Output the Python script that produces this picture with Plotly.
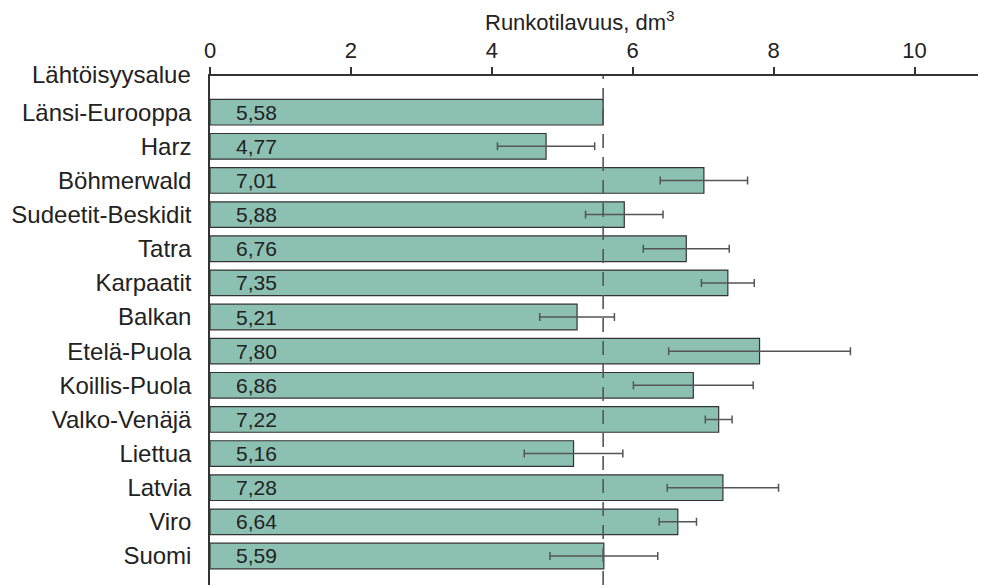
import plotly.graph_objects as go

categories = ["Länsi-Eurooppa", "Harz", "Böhmerwald", "Sudeetit-Beskidit", "Tatra",
              "Karpaatit", "Balkan", "Etelä-Puola", "Koillis-Puola", "Valko-Venäjä",
              "Liettua", "Latvia", "Viro", "Suomi"]
values = [5.58, 4.77, 7.01, 5.88, 6.76, 7.35, 5.21, 7.80, 6.86, 7.22, 5.16, 7.28, 6.64, 5.59]
errors = [0.0, 0.69, 0.62, 0.55, 0.61, 0.375, 0.53, 1.29, 0.85, 0.19, 0.70, 0.79, 0.265, 0.765]
value_labels = [f"{v:.2f}".replace(".", ",") for v in values]
x_ticks = [0, 2, 4, 6, 8, 10]
reference_value = values[0]

FONT = "Liberation Sans, Arial, sans-serif"

fig = go.Figure()
fig.add_trace(go.Bar(
    y=categories, x=values, orientation="h",
    marker=dict(color="#8cc0b2", line=dict(color="#333333", width=1.2)),
    width=0.75,
    error_x=dict(type="data", array=errors, symmetric=True, visible=True,
                 color="#555555", thickness=1.5, width=4),
    hoverinfo="x+y",
))

for cat, lab in zip(categories, value_labels):
    fig.add_annotation(x=0, y=cat, text=lab, showarrow=False, xanchor="left",
                       xshift=24, yshift=0, font=dict(family=FONT, size=21, color="#222222"))

fig.add_shape(type="line", x0=reference_value, x1=reference_value, xref="x",
              y0=0, y1=1, yref="paper",
              line=dict(color="#555555", width=1.6, dash="14px,9px"))

fig.add_annotation(x=0, y=1, xref="paper", yref="paper", text="Lähtöisyysalue",
                   showarrow=False, xanchor="right", yanchor="middle", xshift=-17, yshift=2,
                   font=dict(family=FONT, size=24, color="#222222"))

fig.add_annotation(x=0.478, y=1, xref="paper", yref="paper",
                   text="Runkotilavuus, dm<sup>3</sup>",
                   showarrow=False, xanchor="center", yanchor="bottom", yshift=39,
                   font=dict(family=FONT, size=22, color="#222222"))

# page body has an 8px margin; shrink the figure so it fills the 986x585 window exactly
fig.update_layout(
    width=978, height=577,
    margin=dict(l=202, r=1, t=68, b=0, autoexpand=False),
    paper_bgcolor="white", plot_bgcolor="white",
    showlegend=False,
    font=dict(family=FONT, size=22, color="#222222"),
    xaxis=dict(side="top", range=[0, 11], tickvals=x_ticks, ticktext=[str(t) for t in x_ticks],
               ticks="outside", ticklen=7, tickwidth=1.5, tickcolor="#333333",
               showline=True, linecolor="#333333", linewidth=1.5,
               showgrid=False, zeroline=False, automargin=False,
               tickfont=dict(family=FONT, size=22, color="#222222")),
    yaxis=dict(type="category", categoryorder="array", categoryarray=categories,
               range=[13.85, -1.06], showline=True, linecolor="#333333", linewidth=1.5,
               showgrid=False, zeroline=False, ticks="", ticklabelstandoff=12,
               automargin=False,
               tickfont=dict(family=FONT, size=24, color="#222222")),
)

fig.write_html("out.html")
